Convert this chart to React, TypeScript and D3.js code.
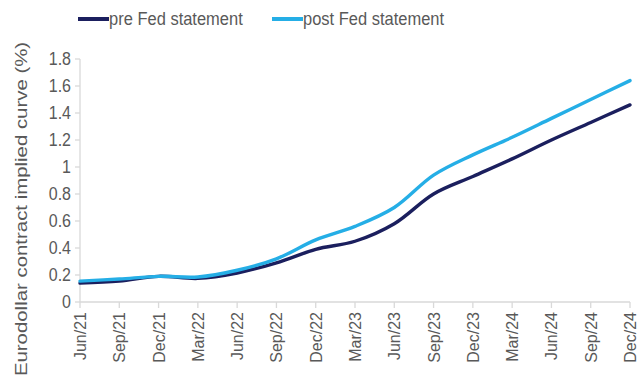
import React from "react";
import * as d3 from "d3";

const categories = ["Jun/21","Sep/21","Dec/21","Mar/22","Jun/22","Sep/22","Dec/22","Mar/23","Jun/23","Sep/23","Dec/23","Mar/24","Jun/24","Sep/24","Dec/24"];
const preFed = [0.14,0.155,0.19,0.175,0.215,0.29,0.39,0.45,0.58,0.80,0.93,1.06,1.20,1.33,1.46];
const postFed = [0.155,0.17,0.19,0.185,0.235,0.32,0.46,0.56,0.70,0.94,1.09,1.22,1.36,1.50,1.64];
const yTicks = [0,0.2,0.4,0.6,0.8,1,1.2,1.4,1.6,1.8];
const seriesNames = ["pre Fed statement","post Fed statement"];
const colors = ["#1b1f5e","#25aee6"];

const W = 640, H = 380;
const M = { left: 80, right: 10, top: 59, bottom: 78 };

export default function App() {
  const x = d3.scalePoint<string>().domain(categories).range([M.left, W - M.right]);
  const y = d3.scaleLinear().domain([0, 1.8]).range([H - M.bottom, M.top]);
  const line = d3.line<number>()
    .x((_, i) => x(categories[i]) as number)
    .y((d) => y(d))
    .curve(d3.curveCatmullRom.alpha(0.5));
  const axisColor = "#d9d9d9";
  const textColor = "#595959";
  const font = "'Liberation Sans', Arial, sans-serif";
  const y0 = y(0);
  return (
    <svg width={W} height={H} style={{ position: "absolute", left: 0, top: 0 }} fontFamily={font}>
      <rect width={W} height={H} fill="#fff" />
      {/* legend */}
      {seriesNames.map((n, i) => {
        const lx = i === 0 ? 78 : 272;
        return (
          <g key={n}>
            <line x1={lx} x2={lx + 31} y1={19} y2={19} stroke={colors[i]} strokeWidth={4} />
            <text transform={`translate(${lx + 31},25) scale(1,1.12)`} fontSize={16.5} fill={textColor}>{n}</text>
          </g>
        );
      })}
      {/* y axis */}
      <line x1={M.left} x2={M.left} y1={y(1.8)} y2={y0} stroke={axisColor} strokeWidth={1.3} />
      {yTicks.map((t) => (
        <g key={t}>
          <line x1={M.left - 5} x2={M.left} y1={y(t)} y2={y(t)} stroke={axisColor} strokeWidth={1.3} />
          <text transform={`translate(71,${y(t)}) scale(1,1.12)`} dy="0.36em" textAnchor="end" fontSize={16} fill={textColor}>{d3.format("")(t)}</text>
        </g>
      ))}
      {/* x axis */}
      <line x1={M.left} x2={W - M.right} y1={y0} y2={y0} stroke={axisColor} strokeWidth={1.3} />
      {categories.map((c) => (
        <g key={c}>
          <line x1={x(c)} x2={x(c)} y1={y0} y2={y0 + 6} stroke={axisColor} strokeWidth={1.3} />
          <text transform={`translate(${(x(c) as number) + 6},${y0 + 10}) rotate(-90)`} textAnchor="end" fontSize={16} fill={textColor}>{c}</text>
        </g>
      ))}
      {/* y title */}
      <text transform={`translate(27,209) rotate(-90) scale(1.2,1)`} textAnchor="middle" fontSize={17} fill={textColor}>Eurodollar contract implied curve (%)</text>
      {/* lines */}
      {[preFed, postFed].map((s, i) => (
        <path key={i} d={line(s) || ""} fill="none" stroke={colors[i]} strokeWidth={3.4} strokeLinejoin="round" strokeLinecap="round" />
      ))}
    </svg>
  );
}
